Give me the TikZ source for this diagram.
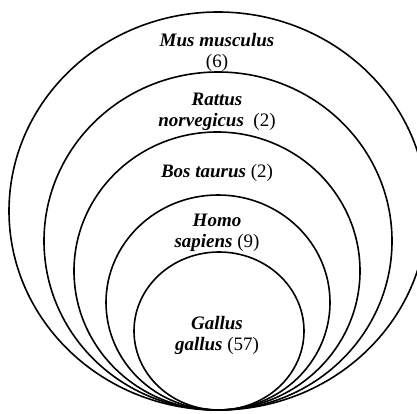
\documentclass[tikz,border=0pt]{standalone}
\usepackage{fontspec}
\setmainfont{Liberation Serif}
\begin{document}
\begin{tikzpicture}[x=1pt,y=-1pt,
  ring/.style={draw=black,line width=1.6pt},
  lab/.style={align=center,font=\fontsize{19}{21}\selectfont,inner sep=0pt}]
\useasboundingbox (0,0) rectangle (417,414);
\draw[ring] (218,211) ellipse [x radius=209,y radius=199];
\draw[ring] (218,241) ellipse [x radius=174,y radius=169];
\draw[ring] (217,271) ellipse [x radius=143,y radius=139];
\draw[ring] (218,302.5) ellipse [x radius=112,y radius=107.5];
\draw[ring] (219,331) ellipse [x radius=85,y radius=79];
\node[lab] (mus) at (217,52) {\textbf{\textit{Mus musculus}}\\(6)};
\node[lab] (rat) at (217,112) {\textbf{\textit{Rattus}}\\\textbf{\textit{norvegicus}}\ \ (2)};
\node[lab] (bos) at (217,173) {\textbf{\textit{Bos taurus}} (2)};
\node[lab] (homo) at (217,233) {\textbf{\textit{Homo}}\\\textbf{\textit{sapiens}} (9)};
\node[lab] (gal) at (217,335) {\textbf{\textit{Gallus}}\\\textbf{\textit{gallus}} (57)};
\end{tikzpicture}
\end{document}
